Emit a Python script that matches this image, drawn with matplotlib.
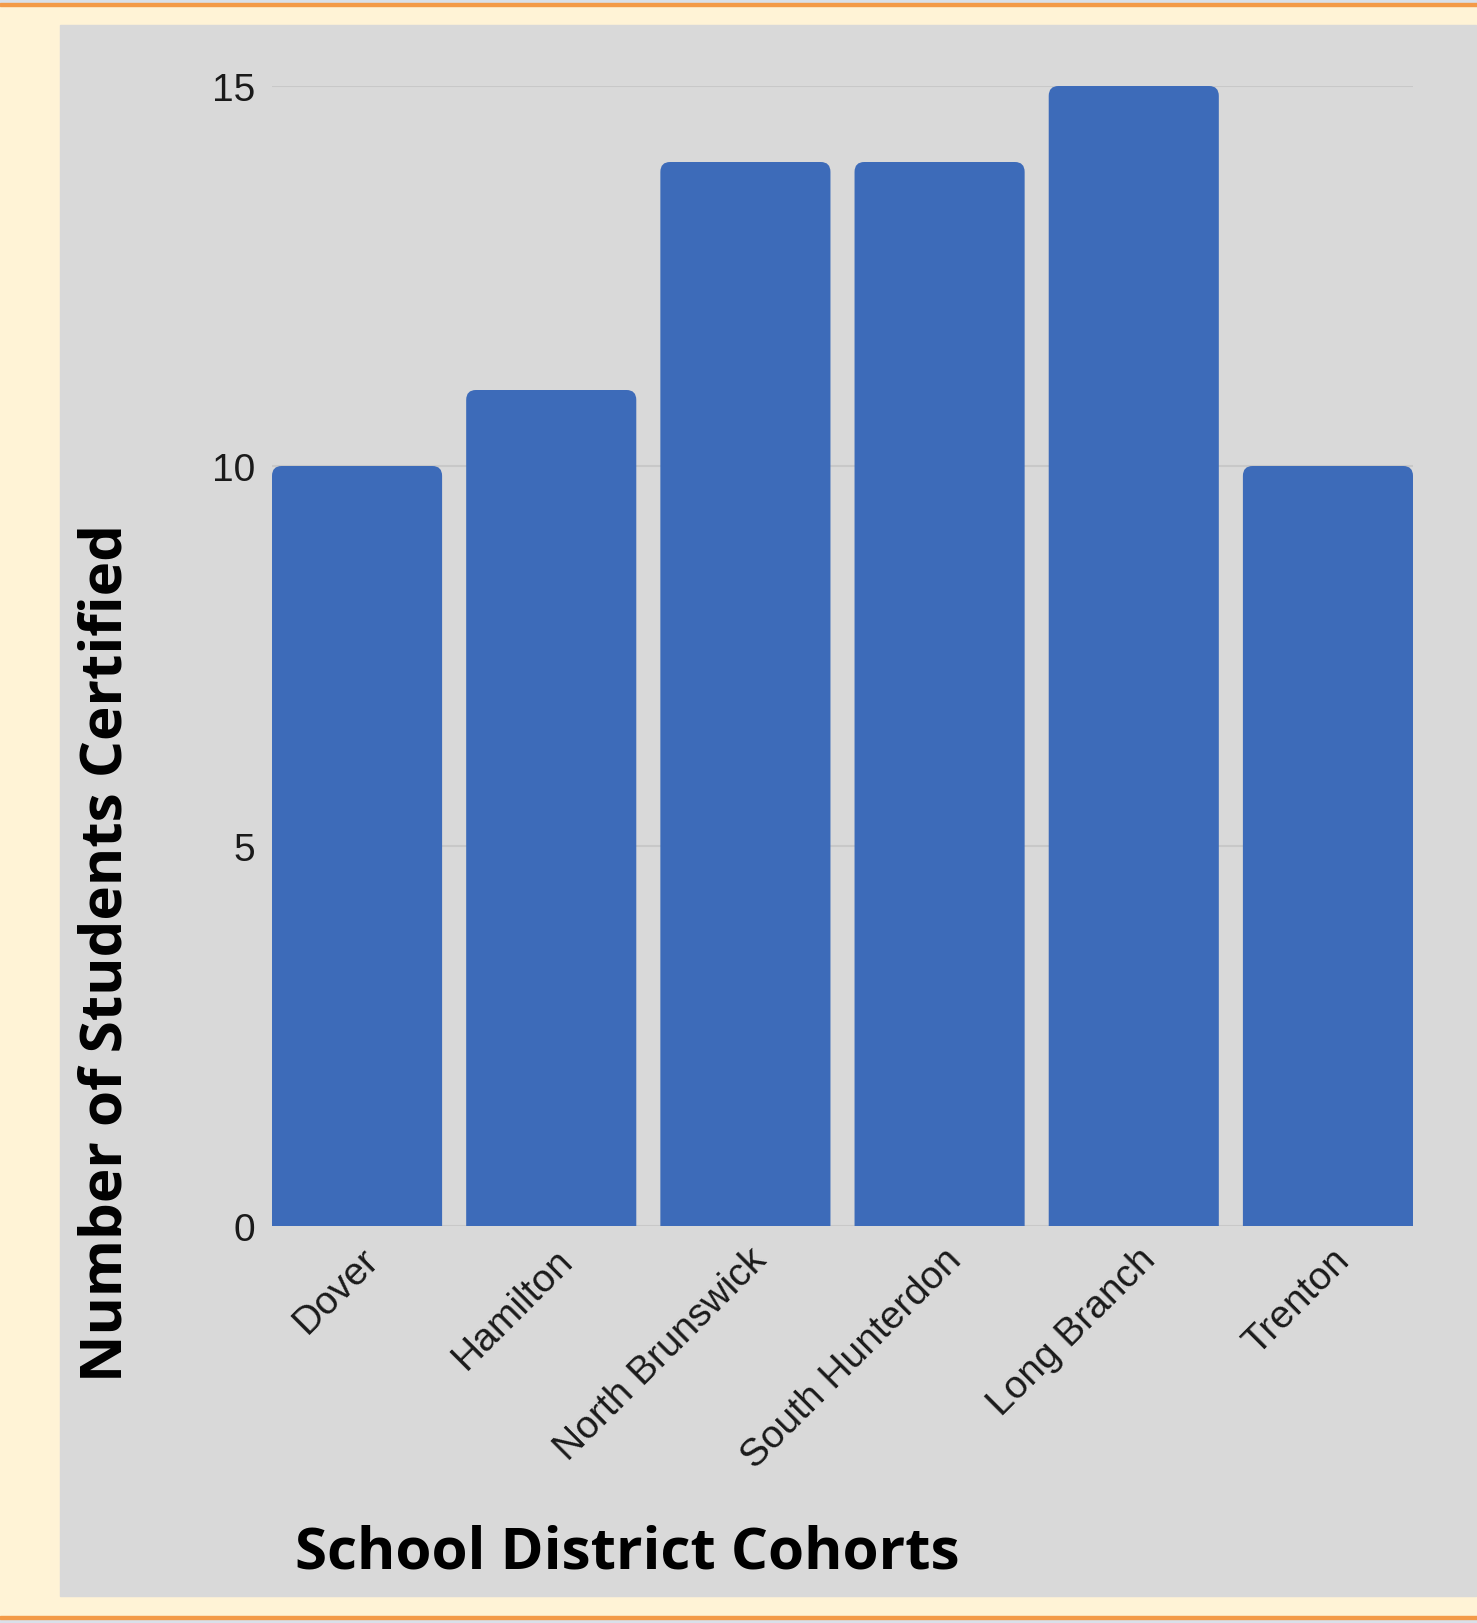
import numpy as np
import matplotlib
matplotlib.use("Agg")
from matplotlib import pyplot as plt
from matplotlib.patches import Rectangle, FancyBboxPatch
from matplotlib.transforms import ScaledTranslation

districts = ["Dover", "Hamilton", "North Brunswick", "South Hunterdon", "Long Branch", "Trenton"]
certified = [10, 11, 14, 14, 15, 10]
y_ticks = [0, 5, 10, 15]

W, H = 1477, 1624
fig = plt.figure(figsize=(W / 100, H / 100), dpi=100, facecolor="#fff3d6")

def fx(px):
    return px / W

def fy(py):
    return 1 - py / H

# page decoration: strips, orange rules, gray chart panel (behind the axes)
deco = [
    ((0, fy(4)), 1, 4 / H, "#d9e0ea"),
    ((0, fy(1624)), 1, 4 / H, "#d9e0ea"),
    ((0, fy(7)), 1, 3 / H, "#f39a48"),
    ((0, fy(1620)), 1, 3 / H, "#f39a48"),
    ((fx(60), fy(1597)), fx(1476 - 60), (1597 - 26) / H, "#d9d9d9"),
]
for xy, w, h, c in deco:
    fig.patches.append(Rectangle(xy, w, h, transform=fig.transFigure, color=c, zorder=-5))

ax = fig.add_axes([fx(272), fy(1227), fx(1413 - 272), (1227 - 87) / H])
ax.set_facecolor("#d9d9d9")
for s in ax.spines.values():
    s.set_visible(False)

x = np.arange(len(districts))
width = 0.876
bars = ax.bar(x, certified, width=width, color="#3d6bb9", zorder=3)
# swap plain rectangles for ones with rounded tops
for b in bars:
    b.set_visible(False)
    p = FancyBboxPatch((b.get_x(), -1), b.get_width(), b.get_height() + 1,
                       boxstyle="round,pad=0,rounding_size=0.05", mutation_aspect=2.6,
                       facecolor="#3d6bb9", edgecolor="none", zorder=3)
    ax.add_patch(p)

ax.set_xlim(-width / 2, len(districts) - 1 + width / 2)
ax.set_ylim(0, 15)
ax.set_yticks(y_ticks)
ax.yaxis.grid(True, color="#c8c8c8", linewidth=1.5, zorder=0)
ax.set_axisbelow(True)
ax.tick_params(axis="both", length=0, labelsize=28, colors="#1a1a1a")
ax.tick_params(axis="y", pad=12)
for t in ax.get_yticklabels():
    t.set_family("Liberation Sans")

ax.set_xticks(x)
ax.set_xticklabels(districts, rotation=45, ha="right", va="center",
                   rotation_mode="anchor", family="Liberation Sans")
offset = ScaledTranslation(0.16, -0.23, fig.dpi_scale_trans)
for t in ax.get_xticklabels():
    t.set_transform(t.get_transform() + offset)

fig.text(fx(107), fy(953), "Number of Students Certified", rotation=90,
         ha="center", va="center", fontsize=42, fontweight="bold", family="Open Sans")
fig.text(fx(627), fy(1554), "School District Cohorts",
         ha="center", va="center", fontsize=42, fontweight="bold", family="Open Sans")

fig.savefig("out.png", dpi=100, facecolor=fig.get_facecolor())
